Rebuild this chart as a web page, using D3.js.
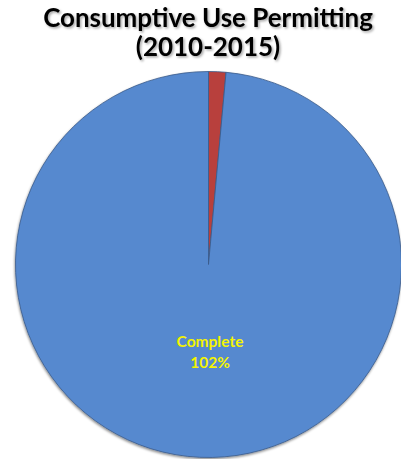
<!DOCTYPE html>
<html>
<head>
<meta charset="utf-8">
<script src="https://cdn.jsdelivr.net/npm/d3@7"></script>
<style>
html,body{margin:0;padding:0;background:#fff;}
svg{display:block;}
</style>
</head>
<body>
<script>
const categories = ["Other", "Complete"];
const values = [1.5, 102];
const labels = ["", "Complete\n102%"];
const titleLines = ["Consumptive Use Permitting", "(2010-2015)"];
const colors = ["#B8403D", "#5689CF"];

const W = 401, H = 459;
const svg = d3.select("body").append("svg").attr("width", W).attr("height", H);

const defs = svg.append("defs");
const f = defs.append("filter").attr("id", "tshadow").attr("x", "-10%").attr("y", "-10%").attr("width", "120%").attr("height", "140%");
f.append("feDropShadow").attr("dx", 1.5).attr("dy", 1.5).attr("stdDeviation", 1).attr("flood-color", "#000").attr("flood-opacity", 0.35);
const f2 = defs.append("filter").attr("id", "pshadow").attr("x", "-10%").attr("y", "-10%").attr("width", "120%").attr("height", "120%");
f2.append("feDropShadow").attr("dx", -0.5).attr("dy", 1.5).attr("stdDeviation", 1.2).attr("flood-color", "#000").attr("flood-opacity", 0.45);

const cx = 208.5, cy = 264.5, r = 193;

const pie = d3.pie().sort(null).value(d => d)(values);
const arc = d3.arc().innerRadius(0).outerRadius(r);

const g = svg.append("g").attr("transform", `translate(${cx},${cy})`);
g.append("g").attr("filter", "url(#pshadow)")
  .selectAll("path").data(pie).join("path")
  .attr("d", arc)
  .attr("fill", (d, i) => colors[i])
  .attr("stroke", "#3a5a8a")
  .attr("stroke-width", 0.8)
  .attr("stroke-linejoin", "round");

// label
pie.forEach((d, i) => {
  if (!labels[i]) return;
  const lines = labels[i].split("\n");
  const t = g.append("text")
    .attr("text-anchor", "middle")
    .attr("font-family", "Lato, 'Open Sans', sans-serif")
    .attr("font-weight", "bold")
    .attr("font-size", 15.5)
    .attr("fill", "#F4F400");
  lines.forEach((ln, k) => {
    t.append("tspan").attr("x", 1.5).attr("y", 82.5 + k * 20.5).text(ln);
  });
});

// title
const tg = svg.append("g").attr("filter", "url(#tshadow)");
const t1 = tg.append("text").attr("x", 208).attr("y", 27)
  .attr("text-anchor", "middle")
  .attr("font-family", "Lato, 'Open Sans', sans-serif")
  .attr("font-weight", "bold").attr("font-size", 24).attr("fill", "#000")
  .text(titleLines[0]);
const w = t1.node().getComputedTextLength();
const fs = 24 * 330 / w;
t1.attr("font-size", fs);
tg.append("text").attr("x", 208).attr("y", 56)
  .attr("text-anchor", "middle")
  .attr("font-family", "Lato, 'Open Sans', sans-serif")
  .attr("font-weight", "bold").attr("font-size", fs).attr("fill", "#000")
  .text(titleLines[1]);
</script>
</body>
</html>
